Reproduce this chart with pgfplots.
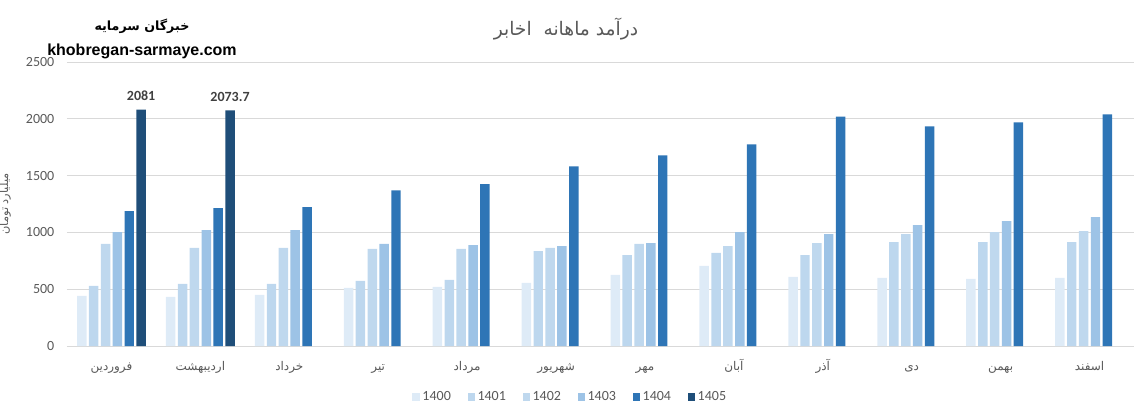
\documentclass[border=0pt]{standalone}
\usepackage{fontspec}
\setmainfont{Carlito}
\newfontfamily\arabicfont[Script=Arabic]{DejaVu Sans}
\newfontfamily\wmfont{Liberation Sans}
\TeXXeTstate=1
\usepackage{pgfplots}
\pgfplotsset{compat=1.18}
\definecolor{c1400}{HTML}{DEEBF7}
\definecolor{c1401}{HTML}{BDD7EE}
\definecolor{c1402}{HTML}{BFD8EE}
\definecolor{c1403}{HTML}{9DC3E6}
\definecolor{c1404}{HTML}{2E75B6}
\definecolor{c1405}{HTML}{1F4E79}
\definecolor{txtgray}{HTML}{595959}
\definecolor{lblgray}{HTML}{404040}
\definecolor{gridgray}{HTML}{D9D9D9}
\begin{document}
\begin{tikzpicture}
\useasboundingbox (0,0) rectangle (856.5pt,308.25pt);
\begin{axis}[
  at={(50.25pt,48.75pt)}, anchor=south west,
  scale only axis, width=800.25pt, height=213pt,
  xmin=-0.5, xmax=11.5, ymin=0, ymax=2500,
  ytick={0,500,...,2500},
  xtick={0,...,11},
  xticklabels={{\arabicfont\beginR فروردین\endR},{\arabicfont\beginR اردیبهشت\endR},{\arabicfont\beginR خرداد\endR},{\arabicfont\beginR تیر\endR},{\arabicfont\beginR مرداد\endR},{\arabicfont\beginR شهریور\endR},{\arabicfont\beginR مهر\endR},{\arabicfont\beginR آبان\endR},{\arabicfont\beginR آذر\endR},{\arabicfont\beginR دی\endR},{\arabicfont\beginR بهمن\endR},{\arabicfont\beginR اسفند\endR}},
  x tick label style={font=\fontsize{9}{10}\selectfont, text=txtgray, text height=6pt, text depth=2pt, yshift=-9pt},
  y tick label style={font=\fontsize{10.5}{12}\selectfont, text=txtgray, xshift=-6pt},
  /pgf/number format/assume math mode=true,
  /pgf/number format/1000 sep={},
  ybar=1.8pt, bar width=7.1pt,
  axis line style={draw=none},
  major tick length=0pt,
  ymajorgrids, grid style={gridgray, line width=0.75pt},
  ylabel={\arabicfont\beginR میلیارد تومان\endR},
  ylabel style={font=\fontsize{8.5}{10}\selectfont, text=txtgray, at={(axis description cs:-0.058,0.5)}, anchor=center},
  legend style={at={(axis description cs:0.472,-0.18)}, anchor=center, legend columns=6, draw=none,
    font=\fontsize{10.5}{12}\selectfont, text=txtgray,
    /tikz/every even column/.append style={column sep=10.5pt}},
  legend image code/.code={\fill[#1,draw=none] (0pt,-2.75pt) rectangle (5.5pt,2.75pt);},
]
\addplot[fill=c1400, draw=none] coordinates {(0,441) (1,433) (2,450) (3,512) (4,520) (5,556) (6,626) (7,705) (8,608) (9,599) (10,591) (11,599)};
\addplot[fill=c1401, draw=none] coordinates {(0,529) (1,547) (2,547) (3,573) (4,582) (5,836) (6,801) (7,819) (8,801) (9,915) (10,915) (11,915)};
\addplot[fill=c1402, draw=none] coordinates {(0,898) (1,863) (2,863) (3,854) (4,854) (5,863) (6,898) (7,880) (8,906) (9,985) (10,1003) (11,1012)};
\addplot[fill=c1403, draw=none] coordinates {(0,1003) (1,1020) (2,1020) (3,898) (4,889) (5,880) (6,906) (7,1003) (8,985) (9,1064) (10,1099) (11,1135)};
\addplot[fill=c1404, draw=none] coordinates {(0,1187) (1,1213) (2,1222) (3,1371) (4,1424) (5,1582) (6,1678) (7,1775) (8,2020) (9,1933) (10,1968) (11,2038)};
\addplot[fill=c1405, draw=none, nodes near coords,
  every node near coord/.append style={font=\bfseries\fontsize{10.5}{12}\selectfont, text=lblgray, yshift=3pt}]
  coordinates {(0,2081) (1,2073.7)};
\legend{1400,1401,1402,1403,1404,1405}
\end{axis}
\node[font=\arabicfont\bfseries\fontsize{9.5}{12}\selectfont, text=black] at (106.5pt,288.75pt) {\beginR خبرگان سرمایه\endR};
\node[font=\wmfont\bfseries\fontsize{12}{14}\selectfont, text=black] at (106.5pt,270pt) {khobregan-sarmaye.com};
\node[font=\arabicfont\fontsize{14}{16}\selectfont, text=txtgray] at (424.5pt,286.5pt) {\beginR درآمد ماهانه\ \ اخابر\endR};
\end{tikzpicture}
\end{document}
